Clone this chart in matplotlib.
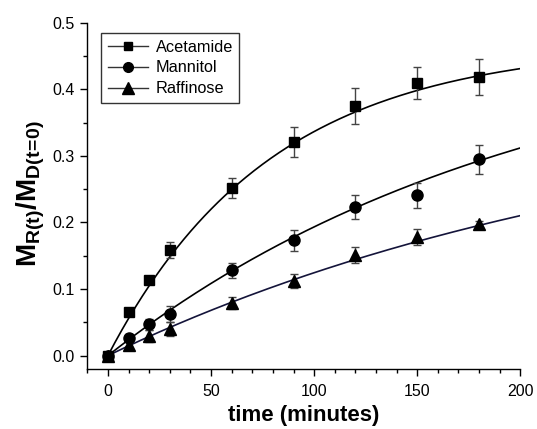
import numpy as np
import matplotlib
matplotlib.use("Agg")
import matplotlib.pyplot as plt
from matplotlib.lines import Line2D
from matplotlib.ticker import MultipleLocator

plt.rcParams["font.family"] = ["Liberation Sans", "DejaVu Sans"]
plt.rcParams["mathtext.fontset"] = "custom"
plt.rcParams["mathtext.rm"] = "Liberation Sans"
plt.rcParams["mathtext.bf"] = "Liberation Sans:bold"

# measured points (minutes)
time_min = [0, 10, 20, 30, 60, 90, 120, 150, 180]
acetamide = [0.0, 0.066, 0.113, 0.159, 0.252, 0.321, 0.375, 0.409, 0.419]
acetamide_err = [0.0, 0.004, 0.006, 0.012, 0.015, 0.022, 0.027, 0.024, 0.027]
mannitol = [0.0, 0.027, 0.047, 0.063, 0.128, 0.173, 0.223, 0.241, 0.295]
mannitol_err = [0.0, 0.005, 0.008, 0.012, 0.011, 0.016, 0.018, 0.019, 0.022]
raffinose = [0.0, 0.016, 0.029, 0.040, 0.079, 0.112, 0.151, 0.178, 0.198]
raffinose_err = [0.0, 0.008, 0.009, 0.011, 0.009, 0.010, 0.012, 0.012, 0.004]

# fitted first-order release curves: M = a * (1 - exp(-k t))
fit_a = [0.468, 0.50, 0.40]
fit_k = [0.0127, 0.00489, 0.00373]

names = ["Acetamide", "Mannitol", "Raffinose"]
markers = ["s", "o", "^"]
msizes = [7, 8, 9]
line_cols = ["black", "black", "#14143a"]

fig = plt.figure(figsize=(5.37, 4.29), dpi=100)
ax = fig.add_axes([0.1626, 0.14, 0.8064, 0.807])

t_fit = np.linspace(0, 200, 300)
series = [(acetamide, acetamide_err), (mannitol, mannitol_err), (raffinose, raffinose_err)]
for i, (vals, errs) in enumerate(series):
    ax.plot(t_fit, fit_a[i] * (1 - np.exp(-fit_k[i] * t_fit)),
            color=line_cols[i], lw=1.2, zorder=2)
    ax.errorbar(time_min, vals, yerr=errs, fmt=markers[i], ms=msizes[i],
                color="black", mfc="black", mec="black", ecolor="#444444",
                elinewidth=1.0, capsize=3, capthick=1.0, zorder=3)

ax.set_xlim(-10, 200)
ax.set_ylim(-0.02, 0.5)
ax.xaxis.set_major_locator(MultipleLocator(50))
ax.xaxis.set_minor_locator(MultipleLocator(10))
ax.yaxis.set_major_locator(MultipleLocator(0.1))
ax.yaxis.set_minor_locator(MultipleLocator(0.05))
ax.yaxis.set_major_formatter(plt.FormatStrFormatter("%.1f"))

for s in ["top", "right"]:
    ax.spines[s].set_visible(False)
for s in ["left", "bottom"]:
    ax.spines[s].set_linewidth(1.0)
ax.tick_params(which="major", direction="out", length=5, width=1.0,
               labelsize=11.5, pad=4)
ax.tick_params(axis="x", which="major", pad=5.5)
ax.tick_params(which="minor", direction="out", length=3, width=1.0)

ax.set_xlabel("time (minutes)", fontsize=16, fontweight="bold", labelpad=5)
ax.set_ylabel(r"$\mathbf{M_{R(t)}/M_{D(t\!=\!0)}}$", fontsize=20, labelpad=4)
ax.yaxis.set_label_coords(-0.092, 0.507)

handles = [Line2D([], [], color="#333333", lw=1.0, marker=m, ms=ms,
                  mfc="black", mec="black")
           for m, ms in zip(markers, [6, 7, 8])]
leg = ax.legend(handles, names, loc="upper left", bbox_to_anchor=(0.032, 0.97),
                fontsize=11.7, frameon=True, fancybox=False, edgecolor="black",
                handlelength=2.5, handletextpad=0.45, labelspacing=0.36,
                borderpad=0.4, borderaxespad=0)
leg.get_frame().set_linewidth(1.0)

fig.savefig("out.png", dpi=100)
